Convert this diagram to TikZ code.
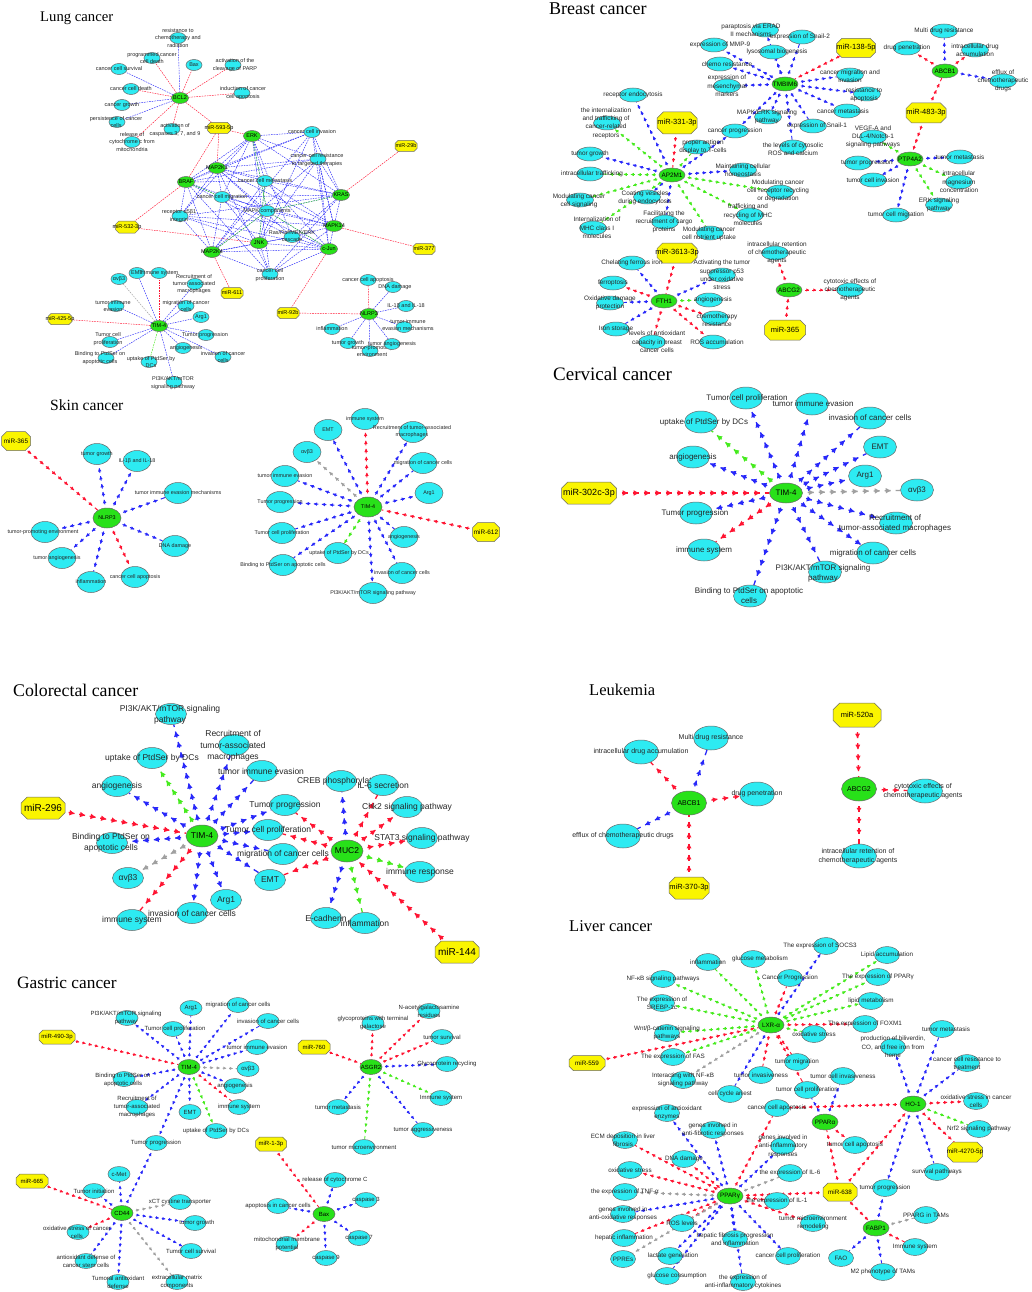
\documentclass[tikz,border=0pt]{standalone}
\usepackage{fontspec}
\setmainfont{Liberation Sans}
\newfontfamily\titlefont{Liberation Serif}
\usetikzlibrary{shapes.geometric,decorations.markings,calc,arrows.meta}
\pgfdeclarelayer{bgw}\pgfdeclarelayer{bg}\pgfsetlayers{bgw,bg,main}
\definecolor{cyc}{RGB}{45,235,242}
\definecolor{grc}{RGB}{40,225,25}
\definecolor{yec}{RGB}{250,245,0}
\definecolor{bdc}{RGB}{105,105,105}
\definecolor{ered}{RGB}{255,20,50}
\definecolor{eblu}{RGB}{40,40,250}
\definecolor{egrn}{RGB}{70,235,30}
\definecolor{egry}{RGB}{160,160,160}
\newcommand\setN[6]{\def\EW{#1}\def\EH{#2}\def\GW{#3}\def\GH{#4}\def\FS{#5}\def\FB{#6}}
\newcommand\setA[5]{\def\AL{#1}\def\AP{#2}\def\AD{#3}\def\AG{#4}\def\LW{#5}}
\setN{16}{11}{17}{11}{5.5pt}{7.4pt}
\setA{3pt}{7pt}{4pt}{3pt}{0.8pt}
\tikzset{
 lab/.style={font=\fontsize{\FS}{\FB}\selectfont, align=center, inner sep=0pt, text=black!85},
 cy/.style={ellipse, draw=bdc, fill=cyc, line width=0.5pt, inner sep=0pt, minimum width=\EW pt, minimum height=\EH pt},
 gn/.style={ellipse, draw=bdc, fill=grc, line width=0.5pt, inner sep=0pt, minimum width=\GW pt, minimum height=\GH pt},
 yo/.style={draw=bdc, fill=yec, line width=0.5pt},
 le/.style={draw=#1, line width=0.45pt, dash pattern=on 1.6pt off 1pt},
 ae/.style={draw=#1, line width=\LW, dash pattern=on \AD off \AG, dash phase=\AD,
   postaction={decorate, decoration={markings, mark=between positions 0 and 1 step \AP with {\arrow[color=#1]{Triangle[length=\AL, width=\AL]}}}}},
 ttl/.style={anchor=west, inner sep=0pt, font=\titlefont\fontsize{#1}{#1}\selectfont},
}
\newcommand\CN[4][0,0]{\node[cy] (#2) at (#3) {}; \node[lab] at ($(#3)+(#1)$) {#4};}
\newcommand\GN[3]{\node[gn] (#1) at (#2) {}; \node[lab,text=black] at (#2) {#3};}
\newcommand\YN[6][\FS]{\draw[yo,shift={(#3)}] ({-#4/2+0.28*#5},{-#5/2}) -- ({#4/2-0.28*#5},{-#5/2}) -- ({#4/2},{-#5/2+0.28*#5}) -- ({#4/2},{#5/2-0.28*#5}) -- ({#4/2-0.28*#5},{#5/2}) -- ({-#4/2+0.28*#5},{#5/2}) -- ({-#4/2},{#5/2-0.28*#5}) -- ({-#4/2},{-#5/2+0.28*#5}) -- cycle;
 \node[inner sep=0pt, ellipse, minimum width=#4pt, minimum height=#5pt] (#2) at (#3) {};
 \node[lab,text=black,font=\fontsize{#1}{#1}\selectfont] at (#3) {#6};}
\newcommand\EA[3]{\foreach \tg in {#3}{\draw[ae=#1] (#2) -- (\tg);}}
\newcommand\EL[3]{\foreach \tg in {#3}{\draw[le=#1] (#2) -- (\tg);}}
\begin{document}
\begin{tikzpicture}[x=1pt,y=-1pt]
\begin{pgfonlayer}{bgw}\fill[white] (0,0) rectangle (1031,1292);\end{pgfonlayer}
\useasboundingbox (0,0) rectangle (1031,1292);
% ================= LUNG =================
\node[ttl=14.7pt] at (40,18) {Lung cancer};
\setN{16}{11}{17}{11}{5.5pt}{7.4pt}
\CN{l1}{178,38}{resistance to\\chemotherapy and\\radiation}
\CN{l2}{152,58}{programmed cancer\\cell death}
\CN{l3}{194,65}{Bax}
\CN[2,0]{l4}{233,65}{activation of the\\cleavage of PARP}
\CN{l5}{119,69}{cancer cell survival}
\CN{l6}{131,89}{cancer cell death}
\GN{lbcl}{180,98}{BCL2}
\CN[1,0]{l7}{242,93}{induction of cancer\\cell apoptosis}
\CN{l8}{122,105}{cancer growth}
\CN[-1,0]{l9}{117,122}{persistence of cancer\\cells}
\CN[3,1]{l10}{172,129}{activation of\\caspases 3, 7, and 9}
\CN{l11}{132,142}{release of\\cytochrome c from\\mitochondria}
\YN{lm593}{219,128}{23}{11}{miR-593-5p}
\GN{lerk}{252,136}{ERK}
\CN{l12}{312,132}{cancer cell invasion}
\YN{lm29}{406,146}{22}{11}{miR-29b}
\CN[-1,1]{l13}{318,159}{cancer cell resistance\\to targeted therapies}
\GN{lmap1}{217,168}{MAP2K1}
\GN{lbraf}{186,182}{BRAF}
\CN{l14}{265,181}{cancer cell metastasis}
\GN{lkras}{341,195}{KRAS}
\CN{l15}{222,197}{cancer cell migration}
\CN{l16}{267,211}{MAPK components}
\CN[-1,0]{l17}{180,216}{receptor α5β1\\integrin}
\YN{lm532}{127,227}{23}{12}{miR-532-3p}
\GN{lmapk14}{334,226}{MAPK14}
\CN[0,-1]{l18}{292,237}{Ras/Raf/MEK/ERK\\cascade}
\GN{ljnk}{259,243}{JNK}
\GN{lcjun}{329,249}{c-Jun}
\YN{lm377}{424,249}{22}{11}{miR-377}
\GN{lmap4}{212,252}{MAP2K4}
\CN[0,1]{l19}{270,274}{cancer cell\\proliferation}
\YN{lm611}{232,293}{22}{11}{miR-611}
% lung TIM-4
\GN{ltim}{159,326}{TIM-4}
\CN{lt1}{119,279}{αvβ3}
\CN{lt2}{137,273}{EMT}
\CN{lt3}{159,273}{immune system}
\CN[-1,0]{lt4}{195,284}{Recruitment of\\tumor-associated\\macrophages}
\CN[-3,0]{lt5}{116,306}{tumor immune\\evasion}
\CN{lt6}{186,306}{migration of cancer\\cells}
\CN{lt7}{201,317}{Arg1}
\YN{lm425}{60,319}{24}{11}{miR-425-5p}
\CN[-1,0]{lt8}{206,335}{Tumor progression}
\CN[-2,-3]{lt9}{110,342}{Tumor cell\\proliferation}
\CN[3,0]{lt10}{183,348}{angiogenesis}
\CN{lt11}{223,357}{invasion of cancer\\cells}
\CN[-6,0]{lt12}{106,358}{Binding to PtdSer on\\apoptotic cells}
\CN[2,0]{lt13}{149,362}{uptake of PtdSer by\\DCs}
\CN[-1,1]{lt14}{174,382}{PI3K/AKT/mTOR\\signaling pathway}
% lung NLRP3
\GN{lnl}{369,314}{NLRP3}
\YN{lm92}{288,313}{22}{11}{miR-92b}
\CN{ln1}{368,280}{cancer cell apoptosis}
\CN[2,0]{ln2}{393,287}{DNA damage}
\CN{ln3}{406,306}{IL-1β and IL-18}
\CN{ln4}{332,329}{inflammation}
\CN[4,-2]{ln5}{404,327}{tumor immune\\evasion mechanisms}
\CN{ln6}{348,343}{tumor growth}
\CN[2,0]{ln7}{370,351}{tumor-promoting\\environment}
\CN{ln8}{392,344}{tumor angiogenesis}
\begin{pgfonlayer}{bg}
\EL{ered}{lbcl}{l2,l3,l4,l6,l7,l10,l11,lm593}
\EL{eblu}{lbcl}{l1,l5,l8,l9}
\EL{ered}{lm593}{lerk,lmap1,lbraf}
\EL{ered}{lm29}{lkras}
\EL{ered}{lm532}{lbraf,ljnk}
\EL{ered}{lmapk14}{lm377}
\EL{ered}{lcjun}{lm92}
\EL{ered}{lmap4}{lm611}
\EL{ered}{lm92}{lnl}
\foreach \g in {lerk,lmap1,lbraf,lkras,lmapk14,ljnk,lcjun,lmap4}{\foreach \c in {l12,l13,l14,l15,l16,l17,l18,l19}{\draw[le=eblu] (\g) -- (\c);}}
\foreach \a/\b in {lerk/lmap1,lerk/lbraf,lmap1/lbraf,lkras/lmapk14,lmapk14/lcjun,ljnk/lmap4,lerk/lkras,lmap1/lkras,lbraf/lmap4,ljnk/lcjun,lmap1/lmapk14,lmap4/lcjun}{\draw[le=eblu] (\a) -- (\b);}
\foreach \a/\b in {lerk/l16,lbraf/l15,lkras/l16,lcjun/l16,lmap4/l16,ljnk/l14}{\draw[le=egrn] (\a) -- (\b);}
\EL{ered}{ltim}{lt3,lm425}
\EL{egry}{ltim}{lt1}
\EL{egrn}{ltim}{lt13}
\EL{eblu}{ltim}{lt2,lt4,lt5,lt6,lt7,lt8,lt9,lt10,lt11,lt12,lt14}
\EL{ered}{lnl}{ln1}
\EL{eblu}{lnl}{ln2,ln3,ln4,ln5,ln6,ln7,ln8}
\end{pgfonlayer}
% ================= BREAST =================
\node[ttl=18pt] at (549,9) {Breast cancer};
\setN{27}{14}{26}{14}{6.4pt}{8.3pt}
\setA{3pt}{7pt}{4pt}{3pt}{0.9pt}
\GN{btm}{785,84}{TMBIM6}
\CN[-14,0]{bt1}{765,30}{paraptosis via ERAD\\II mechanisms}
\CN[6,0]{bt2}{714,45}{expression of MMP-9}
\CN[4,0]{bt3}{773,52}{lysosomal biogenesis}
\CN[-2,0]{bt4}{802,37}{expression of Snail-2}
\CN[7,0]{bt5}{720,64}{chemo resistance}
\CN{bt6}{727,86}{expression of\\mesenchymal\\markers}
\CN[-1,0]{bt7}{768,117}{MAPK/ERK signaling\\pathway}
\CN{bt8}{735,131}{cancer progression}
\CN[0,2]{bt9}{793,147}{the levels of cytosolic\\ROS and calcium}
\CN[4,0]{bt10}{813,126}{expression of Snail-1}
\CN[-4,0]{bt11}{847,111}{cancer metastasis}
\CN[-3,1]{bt12}{867,94}{resistance to\\apoptosis}
\CN[0,1]{bt13}{850,75}{cancer migration and\\invasion}
\YN[7.5pt]{bm138}{856,48}{39}{19}{miR-138-5p}
\GN{babcb}{945,71}{ABCB1}
\CN{bb1}{944,31}{Multi drug resistance}
\CN{bb2}{907,48}{drug penetration}
\CN{bb3}{975,50}{intracellular drug\\accumulation}
\CN{bb4}{1003,81}{efflux of\\chemotherapeutic\\drugs}
\YN[7.5pt]{bm483}{926,113}{40}{20}{miR-483-3p}
\GN{bptp}{910,159}{PTP4A2}
\CN{bp1}{873,137}{VEGF-A and\\DLL-4/Notch-1\\signaling pathways}
\CN{bp2}{960,157}{tumor metastasis}
\CN[9,0]{bp3}{858,163}{tumor progression}
\CN{bp4}{873,180}{tumor cell invasion}
\CN{bp5}{959,182}{intracellular\\magnesium\\concentration}
\CN{bp6}{939,205}{ERK signaling\\pathway}
\CN{bp7}{896,215}{tumor cell migration}
\GN{bap}{672,175}{AP2M1}
\CN{ba1}{633,95}{receptor endocytosis}
\CN[-1,0]{ba2}{607,123}{the internalization\\and trafficking of\\cancer-related\\receptors}
\YN[7.5pt]{bm331}{677,123}{40}{22}{miR-331-3p}
\CN[6,0]{ba3}{697,147}{proper antigen\\display to T-cells}
\CN{ba4}{590,154}{tumor growth}
\CN[2,0]{ba5}{590,174}{intracellular trafficking}
\CN{ba6}{743,170}{Maintaining cellular\\homeostasis}
\CN[-1,1]{ba7}{580,200}{Modulating cancer\\cell signaling}
\CN[-2,1]{ba8}{647,197}{Coating vesicles\\during endocytosis}
\CN[-2,-1]{ba9}{780,192}{Modulating cancer\\cell receptor recycling\\or degradation}
\CN[-2,0]{ba10}{750,215}{trafficking and\\recycling of MHC\\molecules}
\CN[4,0]{ba11}{593,228}{Internalization of\\MHC class I\\molecules}
\CN[-1,0]{ba12}{665,222}{Facilitating the\\recruitment of cargo\\proteins}
\CN[-1,1]{ba13}{710,233}{Modulating cancer\\cell nutrient uptake}
\GN{bfth}{664,301}{FTH1}
\YN[7.5pt]{bm3613}{677,253}{40}{20}{miR-3613-3p}
\CN{bf1}{632,263}{Chelating ferrous iron}
\CN{bf2}{722,275}{Activating the tumor\\suppressor p53\\under oxidative\\stress}
\CN{bf3}{613,283}{ferroptosis}
\CN{bf4}{610,303}{Oxidative damage\\protection}
\CN[4,0]{bf5}{709,300}{angiogenesis}
\CN[2,2]{bf6}{715,318}{chemotherapy\\resistance}
\CN{bf7}{616,329}{Iron storage}
\CN[5,0]{bf8}{652,342}{levels of antioxidant\\capacity in breast\\cancer cells}
\CN[4,0]{bf9}{713,342}{ROS accumulation}
\GN{babcg}{789,290}{ABCG2}
\CN[2,0]{bg1}{775,253}{intracellular retention\\of chemotherapeutic\\agents}
\CN{bg2}{850,290}{cytotoxic effects of\\chemotherapeutic\\agents}
\YN[7.5pt]{bm365}{785,330}{41}{20}{miR-365}
\begin{pgfonlayer}{bg}
\EA{ered}{bm138}{btm}
\EA{eblu}{btm}{bt1,bt2,bt3,bt4,bt5,bt6,bt7,bt8,bt9,bt10,bt11,bt12,bt13}
\EA{eblu}{babcb}{bb1,bb4}
\EA{ered}{babcb}{bb2,bb3}
\EA{ered}{bm483}{babcb,bptp}
\EA{egrn}{bptp}{bp1,bp5,bp6}
\EA{eblu}{bptp}{bp2,bp3,bp4,bp7}
\EA{ered}{bm331}{bap}
\EA{eblu}{bap}{ba1,ba4,ba6,ba8,ba12,bt8}
\EA{egrn}{bap}{ba2,ba3,ba5,ba7,ba9,ba10,ba11,ba13}
\EA{ered}{bm3613}{bfth}
\EA{eblu}{bfth}{bf1,bf2,bf4,bf7}
\EA{ered}{bfth}{bf3,bf6,bf8,bf9}
\EA{egrn}{bfth}{bf5}
\EA{ered}{babcg}{bg1,bg2}
\EA{ered}{bm365}{babcg}
\end{pgfonlayer}
% ================= SKIN =================
\node[ttl=15.6pt] at (50,405) {Skin cancer};
\setN{28}{21}{28}{20}{5.4pt}{7pt}
\setA{3.2pt}{8pt}{4.5pt}{3.5pt}{1pt}
\GN{snl}{107,518}{NLRP3}
\YN[6.4pt]{sm365}{16,441}{29}{19}{miR-365}
\CN{s1}{97,454}{tumor growth}
\CN{s2}{137,461}{IL-1β and IL-18}
\CN{s3}{178,493}{tumor immune evasion mechanisms}
\CN[-2,0]{s4}{45,532}{tumor-promoting environment}
\CN{s5}{175,546}{DNA damage}
\CN[-5,0]{s6}{62,558}{tumor angiogenesis}
\CN{s7}{91,582}{inflammation}
\CN{s8}{135,577}{cancer cell apoptosis}
\GN{stim}{368,507}{TIM-4}
\CN{st1}{365,419}{immune system}
\CN{st2}{328,430}{EMT}
\CN[-1,0]{st3}{413,432}{Recruitment of tumor-associated\\macrophages}
\CN{st4}{307,452}{αvβ3}
\CN{st5}{423,463}{migration of cancer cells}
\CN{st6}{285,476}{tumor immune evasion}
\CN{st7}{429,493}{Arg1}
\CN{st8}{280,502}{Tumor progression}
\CN{st9}{282,533}{Tumor cell proliferation}
\CN{st10}{404,537}{angiogenesis}
\YN[6.4pt]{sm612}{486,532}{27}{19}{miR-612}
\CN[1,0]{st11}{338,553}{uptake of PtdSer by DCs}
\CN{st12}{283,565}{Binding to PtdSer on apoptotic cells}
\CN{st13}{402,573}{invasion of cancer cells}
\CN{st14}{373,593}{PI3K/AKT/mTOR signaling pathway}
\begin{pgfonlayer}{bg}
\EA{ered}{sm365}{snl}
\EA{eblu}{snl}{s1,s2,s3,s4,s5,s6,s7}
\EA{ered}{snl}{s8}
\EA{ered}{stim}{st1}
\EA{egry}{stim}{st4}
\EA{egrn}{stim}{st11}
\EA{eblu}{stim}{st2,st3,st5,st6,st7,st8,st9,st10,st12,st13,st14}
\EA{ered}{sm612}{stim}
\end{pgfonlayer}
% ================= CERVICAL =================
\node[ttl=19pt] at (553,374) {Cervical cancer};
\setN{33}{22}{33}{20}{8pt}{10pt}
\setA{5pt}{11pt}{6pt}{5pt}{1.3pt}
\GN{ctim}{786,493}{TIM-4}
\YN[9pt]{cm302}{589,493}{55}{22}{miR-302c-3p}
\CN[1,0]{c1}{746,398}{Tumor cell proliferation}
\CN[1,0]{c2}{812,404}{tumor immune evasion}
\CN[3,0]{c3}{701,422}{uptake of PtdSer by DCs}
\CN{c4}{870,418}{invasion of cancer cells}
\CN{c5}{880,447}{EMT}
\CN{c6}{693,457}{angiogenesis}
\CN{c7}{865,476}{Arg1}
\CN{c8}{917,490}{αvβ3}
\CN[-1,0]{c9}{696,513}{Tumor progression}
\CN[-1,0]{c10}{896,523}{Recruitment of\\tumor-associated macrophages}
\CN{c11}{704,550}{immune system}
\CN{c12}{873,553}{migration of cancer cells}
\CN[-2,1]{c13}{825,572}{PI3K/AKT/mTOR signaling\\pathway}
\CN[-1,0]{c14}{750,596}{Binding to PtdSer on apoptotic\\cells}
\begin{pgfonlayer}{bg}
\EA{ered}{cm302}{ctim}
\EA{ered}{ctim}{c11}
\EA{egrn}{ctim}{c3}
\EA{egry}{ctim}{c8}
\EA{eblu}{ctim}{c1,c2,c4,c5,c6,c7,c9,c10,c12,c13,c14}
\end{pgfonlayer}
% ================= COLORECTAL =================
\node[ttl=17.8pt] at (13,690) {Colorectal cancer};
\setN{31}{21}{32}{22}{8.5pt}{11.5pt}
\setA{5pt}{10.7pt}{6pt}{4.7pt}{1.3pt}
\GN{otim}{202,836}{TIM-4}
\CN[-1,1]{o1}{171,714}{PI3K/AKT/mTOR signaling\\pathway}
\CN[-1,1]{o2}{234,745}{Recruitment of\\tumor-associated\\macrophages}
\CN{o3}{152,758}{uptake of PtdSer by DCs}
\CN[-1,0]{o4}{262,771}{tumor immune evasion}
\CN{o5}{117,786}{angiogenesis}
\YN[10pt]{om296}{43,808}{44}{22}{miR-296}
\CN{o6}{285,805}{Tumor progression}
\CN{o7}{268,830}{Tumor cell proliferation}
\CN[-1,0]{o8}{112,843}{Binding to PtdSer on\\apoptotic cells}
\CN{o9}{283,854}{migration of cancer cells}
\CN{o10}{128,878}{αvβ3}
\CN{o11}{270,880}{EMT}
\CN{o12}{226,900}{Arg1}
\CN{o13}{192,913}{invasion of cancer cells}
\CN{o14}{132,920}{immune system}
\GN{omuc}{347,851}{MUC2}
\CN[-1,0]{o15}{341,781}{CREB phosphorylation}
\CN{o16}{383,785}{IL-6 secretion}
\CN{o17}{407,807}{Chk2 signaling pathway}
\CN{o18}{422,838}{STAT3 signaling pathway}
\CN{o19}{420,872}{immune response}
\CN{o20}{326,918}{E-cadherin}
\CN{o21}{365,923}{inflammation}
\YN[10pt]{om144}{457,952}{44}{22}{miR-144}
\begin{pgfonlayer}{bg}
\EA{ered}{om296}{otim}
\EA{eblu}{otim}{o1,o2,o4,o5,o6,o7,o8,o9,o11,o12,o13}
\EA{egrn}{otim}{o3}
\EA{egry}{otim}{o10}
\EA{ered}{otim}{o14}
\EA{eblu}{omuc}{o15,o20}
\EA{ered}{omuc}{o16,o17,o18,o6,o7,o11}
\EA{egrn}{omuc}{o19,o21}
\EA{ered}{om144}{omuc}
\end{pgfonlayer}
% ================= LEUKEMIA =================
\node[ttl=16.5pt] at (589,690) {Leukemia};
\setN{35}{24}{35}{24}{7pt}{9pt}
\setA{4.5pt}{11pt}{6pt}{5pt}{1.3pt}
\GN{kab}{689,803}{ABCB1}
\CN{k1}{711,738}{Multi drug resistance}
\CN{k2}{641,752}{intracellular drug accumulation}
\CN{k3}{757,794}{drug penetration}
\CN{k4}{623,836}{efflux of chemotherapeutic drugs}
\YN[7.5pt]{km370}{689,888}{40}{22}{miR-370-3p}
\GN{kag}{859,789}{ABCG2}
\YN[7.5pt]{km520}{857,715}{48}{24}{miR-520a}
\CN[-2,0]{k5}{925,791}{cytotoxic effects of\\chemotherapeutic agents}
\CN[-1,0]{k6}{859,856}{intracellular retention of\\chemotherapeutic agents}
\begin{pgfonlayer}{bg}
\EA{eblu}{kab}{k1,k4}
\EA{ered}{kab}{k2,k3}
\EA{ered}{km370}{kab}
\EA{ered}{km520}{kag}
\EA{ered}{kag}{k5,k6}
\end{pgfonlayer}
% ================= GASTRIC =================
\node[ttl=17.3pt] at (17,983) {Gastric cancer};
\setN{22}{15}{22}{15}{6pt}{8pt}
\setA{2.8pt}{6.5pt}{3.5pt}{3pt}{0.8pt}
\GN{gtim}{189,1067}{TIM-4}
\CN{g1}{191,1008}{Arg1}
\CN{g2}{238,1005}{migration of cancer cells}
\CN[-1,0]{g3}{127,1018}{PI3K/AKT/mTOR signaling\\pathway}
\CN[2,0]{g4}{173,1029}{Tumor cell proliferation}
\CN{g5}{268,1021}{invasion of cancer cells}
\YN{gm490}{57,1037}{36}{14}{miR-490-3p}
\CN{g6}{257,1047}{tumor immune evasion}
\CN{g7}{248,1069}{αvβ3}
\CN[-1,1]{g8}{124,1079}{Binding to PtdSer on\\apoptotic cells}
\CN{g9}{235,1086}{angiogenesis}
\CN{g10}{137,1107}{Recruitment of\\tumor-associated\\macrophages}
\CN{g11}{190,1112}{EMT}
\CN{g12}{239,1107}{immune system}
\CN{g13}{216,1131}{uptake of PtdSer by DCs}
\CN{g14}{156,1143}{Tumor progression}
\GN{gcd}{122,1213}{CD44}
\CN{g15}{119,1174}{c-Met}
\YN{gm665}{32,1181}{32}{14}{miR-665}
\CN{g16}{94,1191}{Tumor initiation}
\CN{g17}{180,1202}{xCT cystine transporter}
\CN[2,0]{g18}{195,1223}{tumor growth}
\CN[-1,0]{g19}{78,1232}{oxidative stress of cancer\\cells}
\CN{g20}{191,1251}{Tumor cell survival}
\CN{g21}{86,1261}{antioxidant defense of\\cancer stem cells}
\CN{g22}{118,1282}{Tumoral antioxidant\\defense}
\CN{g23}{177,1282}{extracellular matrix\\components}
\GN{gas}{371,1067}{ASGR2}
\CN{g24}{429,1011}{N-acetylgalactosamine\\residues}
\CN{g25}{373,1023}{glycoproteins with terminal\\galactose}
\CN{g26}{442,1037}{tumor survival}
\YN{gm760}{314,1047}{32}{14}{miR-760}
\CN{g27}{447,1064}{Glycoprotein recycling}
\CN{g28}{441,1098}{Immune system}
\CN{g29}{338,1107}{tumor metastasis}
\CN{g30}{423,1130}{tumor aggressiveness}
\CN{g31}{364,1147}{tumor microenvironment}
\GN{gbax}{324,1214}{Bax}
\YN{gm13}{271,1144}{31}{14}{miR-1-3p}
\CN{g32}{335,1180}{release of cytochrome C}
\CN{g33}{366,1200}{caspase 3}
\CN{g34}{278,1206}{apoptosis in cancer cells}
\CN{g35}{359,1238}{caspase 7}
\CN{g36}{287,1244}{mitochondrial membrane\\potential}
\CN{g37}{326,1258}{caspase 9}
\begin{pgfonlayer}{bg}
\EA{ered}{gm490}{gtim}
\EA{eblu}{gtim}{g1,g2,g3,g4,g5,g6,g8,g9,g10,g11,g14}
\EA{egry}{gtim}{g7}
\EA{ered}{gtim}{g12}
\EA{egrn}{gtim}{g13}
\EA{eblu}{gcd}{g14,g15,g16,g18,g20,g21,g22}
\EA{egry}{gcd}{g17,g23}
\EA{ered}{gcd}{g19}
\EA{ered}{gm665}{gcd}
\EA{ered}{gm760}{gas}
\EA{ered}{gas}{g24,g25,g26}
\EA{eblu}{gas}{g27,g29,g30}
\EA{egrn}{gas}{g28,g31}
\EA{ered}{gm13}{gbax}
\EA{eblu}{gbax}{g32,g33,g34,g35,g37}
\EA{ered}{gbax}{g36}
\end{pgfonlayer}
% ================= LIVER =================
\node[ttl=16.5pt] at (569,926) {Liver cancer};
\setN{25}{17}{26}{16}{6.3pt}{8.5pt}
\setA{3pt}{7pt}{4pt}{3pt}{0.9pt}
\GN{vlxr}{771,1025}{LXR-α}
\CN[-6,0]{v1}{826,946}{The expression of SOCS3}
\CN{v2}{708,962}{inflammation}
\CN[7,0]{v3}{753,959}{glucose metabolism}
\CN{v4}{887,955}{Lipid accumulation}
\CN{v5}{790,978}{Cancer Progression}
\CN{v6}{663,979}{NF-κB signaling pathways}
\CN{v7}{878,977}{The expression of PPARγ}
\CN{v8}{662,1003}{The expression of\\SREBP-1c}
\CN{v9}{871,1001}{lipid metabolism}
\CN{v10}{865,1024}{The expression of FOXM1}
\CN{v11}{667,1033}{Wnt/β-catenin signaling\\pathways}
\CN{v12}{814,1034}{oxidative stress}
\YN{vm559}{587,1063}{36}{15}{miR-559}
\CN{v13}{673,1057}{The expression of FAS}
\CN{v14}{797,1062}{tumor migration}
\CN{v15}{683,1080}{Interacting with NF-κB\\signaling pathway}
\CN{v16}{761,1075}{tumor invasiveness}
\CN{v17}{843,1076}{tumor cell invasiveness}
\CN{v18}{807,1090}{tumor cell proliferation}
\CN{v19}{730,1094}{cell cycle arrest}
\CN[4,0]{v20}{942,1029}{tumor metastasis}
\CN{v21}{893,1047}{production of biliverdin,\\CO, and free iron from\\heme}
\CN{v22}{967,1063}{cancer cell resistance to\\treatment}
\GN{vho}{913,1104}{HO-1}
\CN{v23}{976,1101}{oxidative stress in cancer\\cells}
\CN{v24}{777,1108}{cancer cell apoptosis}
\GN{vpa}{825,1122}{PPARα}
\CN{v25}{979,1129}{Nrf2 signaling pathway}
\CN{v26}{667,1113}{expression of antioxidant\\enzymes}
\CN{v27}{713,1130}{genes involved in\\anti-fibrotic responses}
\CN[-2,0]{v28}{625,1140}{ECM deposition in liver\\fibrosis}
\CN{v29}{783,1146}{genes involved in\\anti-inflammatory\\responses}
\CN{v30}{855,1145}{tumor cell apoptosis}
\YN{vm4270}{965,1152}{35}{20}{miR-4270-5p}
\CN{v31}{684,1159}{DNA damage}
\CN{v32}{630,1170}{oxidative stress}
\CN{v33}{937,1172}{survival pathways}
\CN{v34}{790,1173}{the expression of IL-6}
\CN{v35}{625,1192}{the expression of TNF-α}
\GN{vpg}{730,1196}{PPARγ}
\YN{vm638}{840,1192}{34}{18}{miR-638}
\CN{v36}{885,1188}{tumor progression}
\CN{v37}{777,1201}{the expression of IL-1}
\CN{v38}{623,1214}{genes involved in\\anti-oxidative responses}
\CN{v39}{926,1215}{PPARG in TAMs}
\CN{v40}{813,1223}{tumor microenvironment\\remodeling}
\CN{v41}{682,1223}{ROS levels}
\GN{vfa}{876,1228}{FABP1}
\CN{v42}{624,1238}{hepatic inflammation}
\CN{v43}{735,1239}{hepatic fibrosis progression\\and inflammation}
\CN{v44}{915,1247}{Immune system}
\CN{v45}{623,1259}{PPREs}
\CN[3,0]{v46}{670,1256}{lactate generation}
\CN{v47}{788,1256}{cancer cell proliferation}
\CN{v48}{841,1258}{FAO}
\CN{v49}{883,1272}{M2 phenotype of TAMs}
\CN[10,0]{v50}{667,1276}{glucose consumption}
\CN{v51}{743,1282}{the expression of\\anti-inflammatory cytokines}
\begin{pgfonlayer}{bg}
\EA{ered}{vm559}{vlxr}
\EA{eblu}{vlxr}{v1,v19}
\EA{ered}{vlxr}{v5,v10,v14,v16,v18}
\EA{egrn}{vlxr}{v2,v3,v4,v6,v7,v8,v9,v11,v12,v13}
\EA{egry}{vlxr}{v15}
\EA{eblu}{vho}{v20,v21,v22,v33,v36}
\EA{ered}{vho}{v23,v24,vm4270}
\EA{egrn}{vho}{v25}
\EA{ered}{vpa}{v30}
\EA{eblu}{vpa}{v17,v18}
\EA{ered}{vm638}{vpg,vpa,vho,vfa}
\EA{eblu}{vpg}{v26,v27,v29,v38,v43,v46,v50,v47,v51}
\EA{ered}{vpg}{v24,v28,v31,v32,v37,v40,v42,v41}
\EA{egry}{vpg}{v34,v35,v45}
\EA{egry}{vfa}{v39}
\EA{ered}{vfa}{v44}
\EA{eblu}{vfa}{v48,v49,v36}
\end{pgfonlayer}
\end{tikzpicture}
\end{document}
